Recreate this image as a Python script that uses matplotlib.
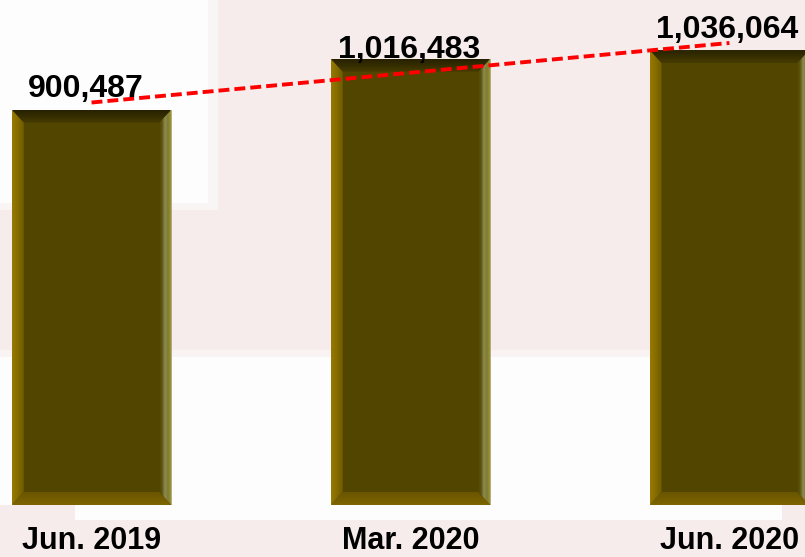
import numpy as np
import matplotlib.pyplot as plt
from matplotlib.patches import Polygon, Rectangle
from matplotlib.colors import LinearSegmentedColormap

plt.rcParams['font.family'] = ['Liberation Sans', 'DejaVu Sans']

periods = ['Jun. 2019', 'Mar. 2020', 'Jun. 2020']
totals = [900487, 1016483, 1036064]

W, H = 805, 557
fig = plt.figure(figsize=(W / 100, H / 100), dpi=100)
fig.patch.set_facecolor('#F6ECEC')


# white blocks of the slide background, given in pixels from top-left
def bg_block(x0, y0, x1, y1, color='#FDFDFD'):
    fig.add_artist(Rectangle((x0 / W, 1 - y1 / H), (x1 - x0) / W, (y1 - y0) / H,
                             transform=fig.transFigure, facecolor=color,
                             edgecolor='none', zorder=-5))


bg_block(0, 0, 218, 210, '#FAF5F5')
bg_block(0, 0, 208, 203)
bg_block(0, 350, W, 357, '#F9F3F3')
bg_block(0, 357, W, 505)
bg_block(75, 505, 782, 520)

ax = fig.add_axes([0, 52 / H, 1, 505 / H])
ax.set_facecolor('none')
for s in ax.spines.values():
    s.set_visible(False)

x = np.arange(len(periods))
xlim = (-0.287, 2.237)
ylim = (0, 1150000)
bars = ax.bar(x, totals, width=0.5, color='#524500', edgecolor='#B8AF8A',
              linewidth=0.6, zorder=2)
ax.set_xlim(*xlim)
ax.set_ylim(*ylim)

# bevel size: ~12 px in data units
bx = 12 * (xlim[1] - xlim[0]) / W
by = 13 * (ylim[1] - ylim[0]) / 505


def shade(pts, colors, extent, horizontal):
    cmap = LinearSegmentedColormap.from_list('bevel', colors)
    g = np.linspace(0, 1, 64)
    img = g[None, :] if horizontal else g[:, None]
    im = ax.imshow(img, cmap=cmap, extent=extent, origin='lower', aspect='auto',
                   interpolation='bilinear', zorder=3)
    im.set_clip_path(Polygon(pts, closed=True, transform=ax.transData))


for b in bars:
    x0, x1 = b.get_x(), b.get_x() + b.get_width()
    y0, y1 = b.get_y(), b.get_y() + b.get_height()
    shade([(x0, y0), (x0, y1), (x0 + bx, y1 - by), (x0 + bx, y0 + by)],
          ['#977A00', '#866C00', '#6E5A00'], (x0, x0 + bx, y0, y1), True)
    shade([(x1, y0), (x1, y1), (x1 - bx, y1 - by), (x1 - bx, y0 + by)],
          ['#524600', '#5C5310', '#8E8C50', '#7E7A32', '#9C9430'],
          (x1 - bx, x1, y0, y1), True)
    shade([(x0, y1), (x1, y1), (x1 - bx, y1 - by), (x0 + bx, y1 - by)],
          ['#463B00', '#262100'], (x0, x1, y1 - by, y1), False)
    shade([(x0, y0), (x1, y0), (x1 - bx, y0 + by), (x0 + bx, y0 + by)],
          ['#7E6500', '#6A5500'], (x0, x1, y0, y0 + by), False)

ax.set_xlim(*xlim)
ax.set_ylim(*ylim)

# linear trend line
coef = np.polyfit(x, totals, 1)
ends = x[[0, -1]]
ax.plot(ends, np.polyval(coef, ends), color='#FF0000', lw=2.8,
        dashes=(2.8, 1.3), zorder=4)

label_offsets = [(-6, 13), (-1.5, 1), (-2.5, 12)]
for i, v in enumerate(totals):
    ax.annotate(f'{v:,}', xy=(x[i], v), xytext=label_offsets[i],
                textcoords='offset pixels', ha='center', va='baseline',
                fontsize=23, fontweight='bold', color='black', zorder=5)

ax.set_yticks([])
ax.set_xticks(x, periods, fontsize=22, fontweight='bold')
ax.tick_params(axis='x', length=0, pad=44 * 0.72)
for t in ax.get_xticklabels():
    t.set_va('baseline')

fig.savefig('out.png', dpi=100, facecolor=fig.get_facecolor())
